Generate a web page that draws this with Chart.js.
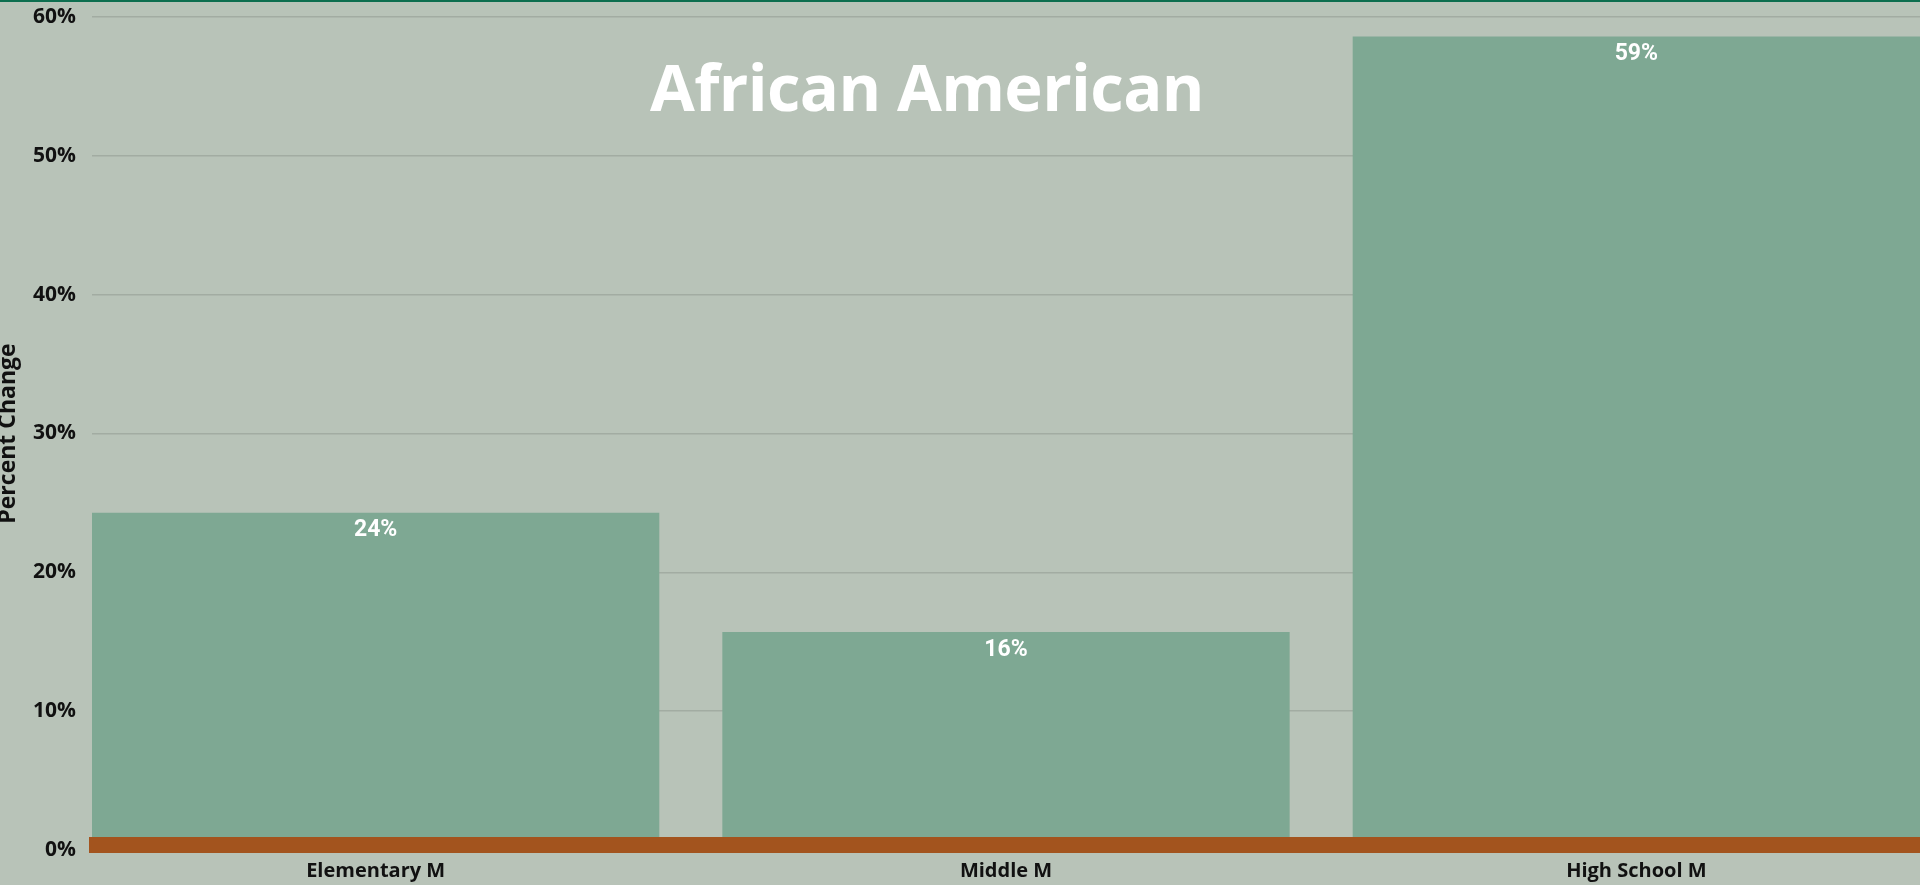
<!DOCTYPE html>
<html>
<head>
<meta charset="utf-8">
<script src="https://cdn.jsdelivr.net/npm/chart.js@4.4.1/dist/chart.umd.min.js"></script>
<style>
    html, body { margin: 0; padding: 0; overflow: hidden; }
    body { width: 1920px; height: 885px; background: #b8c3b8; position: relative; }
    .top-rule { position: absolute; left: 0; top: 0; width: 100%; height: 2px; background: #0d6e4f; z-index: 2; }
    .chart-wrap { position: absolute; left: 0; top: 0; width: 1920px; height: 885px; }
    .chart-title {
        position: absolute; left: 0; width: 1854px; top: 42px; text-align: center;
        font-family: 'Open Sans', sans-serif; font-weight: 700; font-size: 65px; color: #fff;
        letter-spacing: -0.6px; pointer-events: none;
    }
</style>
</head>
<body>
<div class="top-rule"></div>
<div class="chart-wrap"><canvas id="barChart"></canvas></div>
<div class="chart-title">African American</div>

<script>
const categories = ['Elementary M', 'Middle M', 'High School M'];
const pctChange = [24.3, 15.7, 58.6];
const yTicks = [0, 10, 20, 30, 40, 50, 60];

// white % label just inside the top of each bar
const barLabels = {
    id: 'barLabels',
    afterDatasetsDraw(chart) {
        const ctx = chart.ctx;
        const meta = chart.getDatasetMeta(0);
        ctx.save();
        ctx.fillStyle = '#ffffff';
        ctx.font = 'bold 23px Roboto, sans-serif';
        ctx.textAlign = 'center';
        ctx.textBaseline = 'middle';
        meta.data.forEach((bar, i) => {
            ctx.fillText(Math.round(pctChange[i]) + '%', bar.x, bar.y + 18);
        });
        ctx.restore();
    }
};

// thick rust baseline on top of the bars
const baseBand = {
    id: 'baseBand',
    afterDatasetsDraw(chart) {
        const { ctx, chartArea, scales } = chart;
        const y0 = scales.y.getPixelForValue(0);
        ctx.save();
        ctx.fillStyle = '#a3541e';
        ctx.fillRect(chartArea.left - 3, y0 - 13, chartArea.right - chartArea.left + 3, 16);
        ctx.restore();
    }
};

document.addEventListener('DOMContentLoaded', () => {
    new Chart(document.getElementById('barChart').getContext('2d'), {
        type: 'bar',
        data: {
            datasets: [{
                data: pctChange.map((v, i) => ({ x: i, y: v })),
                backgroundColor: '#7ea893',
                borderWidth: 0,
                categoryPercentage: 0.9,
                barPercentage: 1.0
            }]
        },
        options: {
            responsive: true,
            maintainAspectRatio: false,
            animation: false,
            layout: { padding: { top: 17, right: 0, left: 0, bottom: 0 } },
            plugins: { legend: { display: false }, tooltip: { enabled: false } },
            scales: {
                x: {
                    type: 'linear',
                    min: -0.45,
                    max: 2.45,
                    bounds: 'data',
                    offset: false,
                    afterBuildTicks: s => { s.ticks = categories.map((c, i) => ({ value: i })); },
                    afterFit: s => { s.height = 35; },
                    grid: { display: false, drawTicks: false },
                    border: { display: false },
                    ticks: {
                        autoSkip: false,
                        maxRotation: 0,
                        padding: 9,
                        color: '#111',
                        font: { family: 'Open Sans', weight: '700', size: 20 },
                        callback: v => categories[v] ?? ''
                    }
                },
                y: {
                    min: 0,
                    max: 60,
                    afterBuildTicks: s => { s.ticks = yTicks.map(v => ({ value: v })); },
                    afterFit: s => { s.width = 92; s.paddingTop = 0; s.paddingBottom = 0; },
                    grid: { color: '#a2aca2', lineWidth: 1.5, drawTicks: false },
                    border: { display: false },
                    ticks: {
                        padding: 16,
                        color: '#111',
                        font: { family: 'Open Sans', weight: '700', size: 21 },
                        callback: v => v + '%'
                    },
                    title: {
                        display: true,
                        text: 'Percent Change',
                        color: '#111',
                        padding: 0,
                        font: { family: 'Open Sans', weight: '700', size: 23, lineHeight: 0.75 }
                    }
                }
            }
        },
        plugins: [barLabels, baseBand]
    });
});
</script>
</body>
</html>
